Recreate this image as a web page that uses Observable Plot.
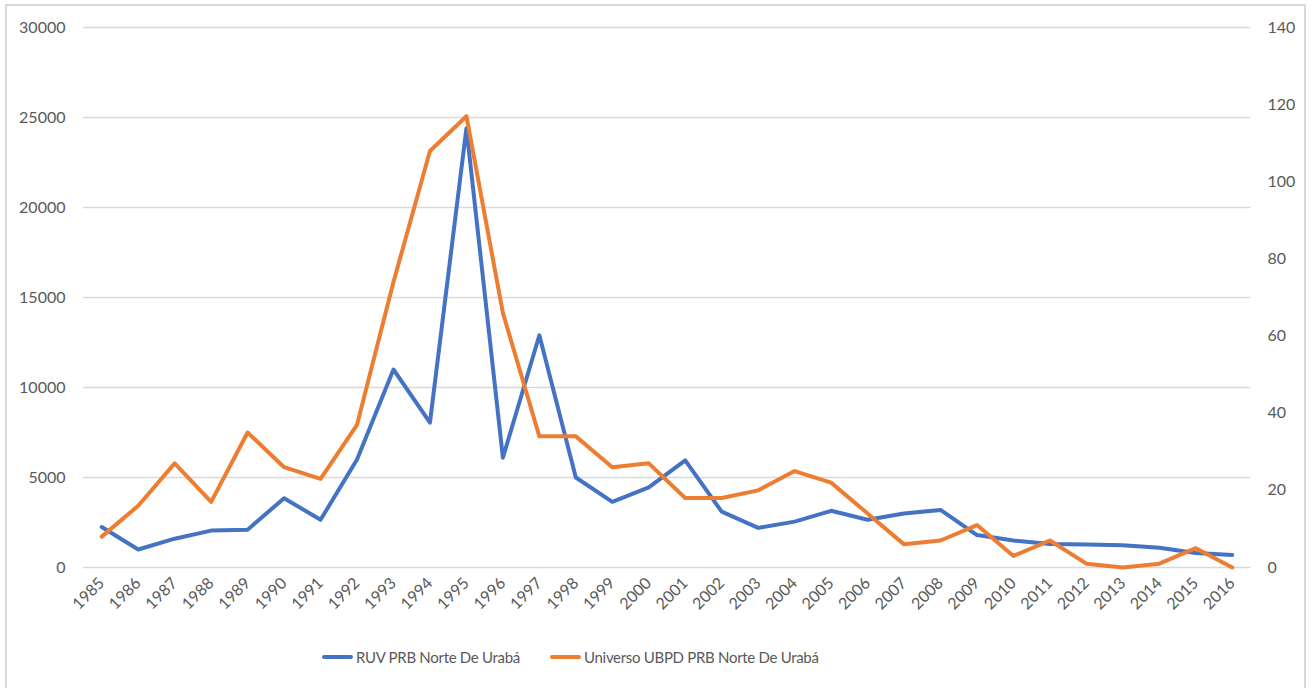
<!DOCTYPE html>
<html>
<head>
<meta charset="utf-8">
<script src="https://cdn.jsdelivr.net/npm/d3@7"></script>
<script src="https://cdn.jsdelivr.net/npm/@observablehq/plot@0.6"></script>
<style>
  html, body { margin: 0; padding: 0; background: #fff; }
  #wrap { position: relative; width: 1313px; height: 688px; overflow: hidden; font-family: Lato, sans-serif; }
  #frame { position: absolute; left: 5px; top: 4px; width: 1301px; height: 700px; border: 2px solid #d9d9d9; box-sizing: border-box; }
  #chart { position: absolute; left: 0; top: 0; }
  .leg { position: absolute; top: 648px; display: flex; align-items: center; font-size: 15px; letter-spacing: -0.3px; color: #595959; white-space: nowrap; }
  .sw { width: 31px; height: 4px; border-radius: 2px; margin-right: 3px; }
</style>
</head>
<body>
<div id="wrap">
  <div id="frame"></div>
  <div id="chart"></div>
  <div class="leg" style="left:322px"><div class="sw" style="background:#4472C4"></div><span>RUV PRB Norte De Urabá</span></div>
  <div class="leg" style="left:550px"><div class="sw" style="background:#ED7D31"></div><span>Universo UBPD PRB Norte De Urabá</span></div>
</div>
<script>
const years = ["1985","1986","1987","1988","1989","1990","1991","1992","1993","1994","1995","1996","1997","1998","1999","2000","2001","2002","2003","2004","2005","2006","2007","2008","2009","2010","2011","2012","2013","2014","2015","2016"];
const ruv = [2250,1000,1600,2050,2100,3850,2650,6000,11000,8050,24400,6100,12900,5000,3650,4450,5950,3100,2200,2550,3150,2650,3000,3200,1800,1500,1300,1280,1230,1100,800,700];
const ubpd = [8,16,27,17,35,26,23,37,74,108,117,66,34,34,26,27,18,18,20,25,22,14,6,7,11,3,7,1,0,1,5,0];
const leftTicks = [0,5000,10000,15000,20000,25000,30000];
const rightTicks = [0,20,40,60,80,100,120,140];
const leftMax = 30000, rightMax = 140;
const toLeft = v => v * leftMax / rightMax;

const ruvData = years.map((y, i) => ({year: y, value: ruv[i]}));
const ubpdData = years.map((y, i) => ({year: y, value: ubpd[i]}));

const chart = Plot.plot({
  width: 1313,
  height: 640,
  marginLeft: 83,
  marginRight: 63,
  marginTop: 27,
  marginBottom: 73,
  style: {fontFamily: "Lato, sans-serif", fontSize: "16px", color: "#595959", background: "transparent"},
  x: {type: "point", domain: years, padding: 0.5, round: false, label: null},
  y: {domain: [0, leftMax], label: null},
  marks: [
    Plot.gridY(leftTicks, {stroke: "#d9d9d9", strokeOpacity: 1, strokeWidth: 1.5}),
    Plot.axisY(leftTicks, {anchor: "left", tickSize: 0, tickPadding: 18, label: null, fill: "#595959", fontSize: 16,
      tickFormat: d => String(d)}),
    Plot.axisY(rightTicks.map(toLeft), {anchor: "right", tickSize: 0, tickPadding: 17, label: null, fill: "#595959", fontSize: 16,
      tickFormat: d => String(Math.round(d * rightMax / leftMax))}),
    Plot.axisX({tickRotate: -45, tickSize: 0, tickPadding: 13, label: null, fill: "#595959", fontSize: 16}),
    Plot.line(ruvData, {x: "year", y: "value", stroke: "#4472C4", strokeWidth: 4, strokeLinejoin: "round", strokeLinecap: "round"}),
    Plot.line(ubpdData, {x: "year", y: d => toLeft(d.value), stroke: "#ED7D31", strokeWidth: 4, strokeLinejoin: "round", strokeLinecap: "round"})
  ]
});
document.getElementById("chart").appendChild(chart);
</script>
</body>
</html>
